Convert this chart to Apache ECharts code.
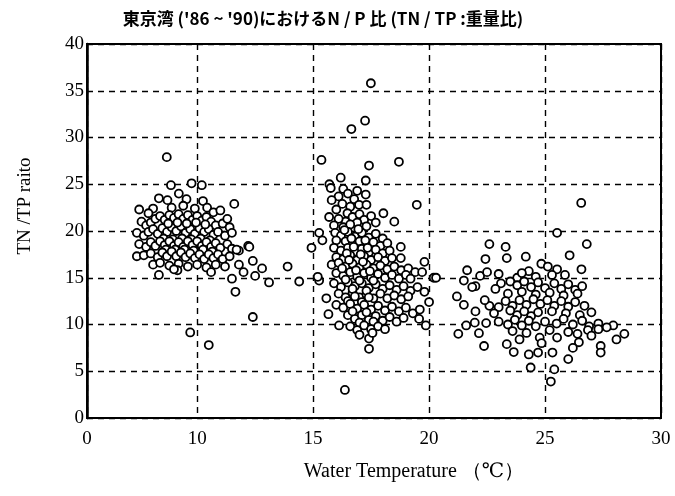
<!DOCTYPE html>
<html>
<head>
<meta charset="utf-8">
<script src="https://cdn.jsdelivr.net/npm/echarts@6/dist/echarts.min.js"></script>
<style>
  html, body { margin: 0; padding: 0; background: #fff; }
  #chart { width: 675px; height: 496px; }
</style>
</head>
<body>
<div id="chart"></div>
<script>
// TN/TP ratio against water temperature, Tokyo Bay 1986-1990
const titleText = "東京湾 ('86 ~ '90)におけるN / P 比 (TN / TP :重量比)";
const xName = 'Water Temperature （℃）';
const yName = 'TN /TP raito';
const xTickLabels = [0, 10, 15, 20, 25, 30];
const yTickLabels = [0, 5, 10, 15, 20, 25, 30, 35, 40];

// [water temperature ℃, TN/TP]
const coolSeason = [
  [8.69,27.9],[8.87,24.9],[9.76,25.1],[10.2,24.9],
  [8.35,23.5],[8.72,23.3],[9.21,24.0],[9.54,23.4],[10.25,23.2],[10.43,22.5],[11.6,22.9],
  [8.1,22.4],[8.9,22.5],[9.4,22.7],[9.9,22.4],[10.7,22.0],[11.0,22.2],
  [7.5,22.3],[7.9,21.9],[7.6,21.0],[7.8,20.6],[8.0,20.9],[8.2,21.3],[8.4,21.6],[8.6,21.2],
  [8.8,21.7],[9.0,21.4],[9.2,21.8],[9.4,21.3],[9.6,21.7],[9.8,21.2],[10.0,21.6],[10.2,21.1],
  [10.4,21.5],[10.6,21.0],[10.8,20.6],[11.1,20.8],[11.3,21.3],[11.4,20.4],
  [7.4,19.8],[7.7,19.5],[7.9,19.9],[8.1,20.2],[8.3,19.7],[8.5,20.3],[8.7,19.9],[8.9,20.4],
  [9.1,20.0],[9.3,20.5],[9.5,19.8],[9.7,20.2],[9.9,19.7],[10.1,20.3],[10.3,19.9],[10.5,20.2],
  [10.7,19.6],[10.9,19.9],[11.2,19.5],[11.5,19.8],
  [8.75,20.8],[9.15,20.9],[9.55,20.8],[9.95,20.9],[10.35,20.7],
  [8.55,19.2],[8.95,19.1],[9.35,19.2],[9.75,19.1],[10.15,19.2],[10.55,19.0],
  [7.5,18.6],[7.8,18.3],[8.0,18.8],[8.2,18.4],[8.4,18.9],[8.6,18.5],[8.8,18.9],[9.0,18.4],
  [9.2,18.8],[9.4,18.3],[9.6,18.9],[9.8,18.5],[10.0,18.9],[10.2,18.4],[10.4,18.8],[10.6,18.3],
  [10.8,18.7],[11.0,18.2],[11.3,18.6],[11.5,18.1],
  [8.65,18.0],[9.05,18.0],[9.45,18.0],[9.85,17.9],[10.25,18.0],[10.65,17.8],
  [7.4,17.3],[7.7,17.4],[8.0,17.6],[8.3,17.2],[8.5,17.7],[8.7,17.3],[8.9,17.8],[9.1,17.3],
  [9.3,17.7],[9.5,17.2],[9.7,17.6],[9.9,17.1],[10.1,17.5],[10.3,17.0],[10.5,17.5],[10.7,17.1],
  [10.9,17.5],[11.1,17.0],[11.4,17.3],
  [8.1,16.4],[8.4,16.6],[8.8,16.3],[9.2,16.5],[9.6,16.2],[10.0,16.4],[10.4,16.1],[10.8,16.4],[11.2,16.2],
  [8.35,15.3],[9.15,15.8],[10.6,15.6],[9.0,15.9],
  [12.2,18.4],[11.8,17.9],[12.4,16.8],[11.8,16.4],[12.8,16.0],[12.0,15.6],[11.5,14.9],[13.1,14.5],
  [11.65,13.5],[12.4,10.8],[13.9,16.2],[14.4,14.6],[12.25,18.3],[11.7,18.0],[12.5,15.2],
  [9.7,9.15],[10.5,7.8]
];

const midSeason = [
  [17.49,35.8],[17.24,31.8],[16.65,30.9],[15.36,27.6],[17.41,27.0],[18.7,27.4],[19.47,22.8],
  [15.7,25.0],[15.76,24.6],[16.19,25.7],[16.1,23.7],[15.8,23.3],[16.3,24.5],[16.5,24.0],[16.9,24.3],
  [17.27,23.9],[17.27,25.4],[16.77,23.4],[16.98,22.8],[17.3,22.8],[16.26,22.9],[16.0,22.3],[16.6,22.6],
  [15.69,21.5],[16.48,21.9],[16.4,21.0],[16.1,21.3],[16.7,21.5],[17.0,21.8],[17.2,21.2],[17.5,21.6],
  [16.9,20.9],[15.9,20.6],[16.3,20.4],[16.6,20.7],[17.3,20.5],[17.7,20.9],[18.03,21.9],[18.5,21.0],
  [15.26,19.8],[15.4,19.0],[15.95,19.8],[16.2,19.5],[16.5,19.9],[16.8,19.4],[17.1,19.8],[17.4,19.3],
  [17.7,19.7],[18.0,19.2],[16.0,19.0],[16.4,18.9],[16.7,18.6],[17.0,18.9],[17.3,18.5],[17.6,18.8],
  [17.9,18.4],[18.2,18.7],
  [16.35,20.1],[16.65,19.2],[16.95,20.2],[17.25,19.0],
  [14.93,18.2],[15.9,18.2],[16.2,17.9],[16.5,18.2],[16.8,17.8],[17.1,18.1],[17.4,17.7],[17.7,18.0],
  [18.0,17.6],[18.3,17.9],[18.78,18.3],[18.78,17.1],[16.0,17.2],[16.3,17.0],[16.6,17.4],[16.9,16.9],
  [17.2,17.3],[17.5,16.9],[17.8,17.2],[18.1,16.8],[18.4,17.1],
  [16.45,17.6],[16.75,18.3],[17.05,17.5],[17.35,18.2],
  [15.8,16.4],[16.1,16.6],[16.4,16.2],[16.7,16.5],[17.0,16.1],[17.3,16.4],[17.6,16.0],[17.9,16.3],
  [18.2,15.9],[18.5,16.2],[18.8,15.8],[19.1,16.0],[19.8,16.7],[19.4,15.6],[16.0,15.5],[16.3,15.2],
  [16.6,15.6],[16.9,15.1],[17.2,15.5],[17.5,15.0],[17.8,15.4],[18.1,15.0],[18.4,15.3],[18.7,14.9],
  [19.0,15.3],[19.7,15.6],[19.2,14.9],[20.2,15.0],[15.26,14.7],[15.2,15.1],
  [16.25,16.0],[16.55,16.9],[16.85,15.8],[17.15,16.7],[17.45,15.7],
  [15.9,14.4],[16.2,14.0],[16.5,14.5],[16.8,14.1],[17.1,14.4],[17.4,13.9],[17.7,14.3],[18.0,13.8],
  [18.3,14.2],[18.6,13.7],[18.9,14.1],[19.2,13.6],[19.5,14.0],[19.8,13.5],[16.1,13.3],[16.4,12.9],
  [16.7,13.4],[17.0,12.9],[17.3,13.2],[17.6,12.8],[17.9,13.3],[18.2,12.8],[18.5,13.1],[18.8,12.7],
  [19.1,13.0],[15.57,12.8],[20.0,12.4],
  [16.4,14.8],[16.7,13.8],[17.0,14.7],[17.3,13.6],[17.6,14.7],[16.5,12.5],[16.8,13.0],[17.1,12.4],[17.4,12.9],
  [16.0,12.1],[16.3,11.8],[16.6,12.2],[16.9,11.7],[17.2,12.1],[17.5,11.6],[17.8,12.0],[18.1,11.5],
  [18.4,11.9],[18.7,11.4],[19.0,11.8],[19.3,11.2],[19.6,11.6],[15.66,11.1],[16.5,11.0],[16.8,10.6],
  [17.1,11.0],[17.4,10.5],[17.7,10.9],[18.0,10.4],[18.3,10.8],[18.6,10.3],[18.9,10.7],[19.57,10.6],
  [16.7,11.4],[17.0,10.2],[17.3,11.3],[17.6,10.3],
  [16.12,9.9],[19.86,9.9],[16.6,9.8],[16.9,9.4],[17.2,9.9],[17.5,9.5],[17.8,9.8],[18.1,9.5],
  [17.41,8.5],[17.41,7.4],[17.56,9.1],[17.0,8.9],[16.37,3.0]
];

const warmSeason = [
  [26.56,23.0],[25.52,19.8],[26.8,18.6],[22.6,18.6],[23.3,18.3],[23.35,17.1],[22.43,17.0],
  [24.17,17.25],[26.06,17.4],[26.57,15.9],
  [21.64,15.8],[22.2,15.2],[22.5,15.6],[23.0,15.4],[24.84,16.5],[25.12,16.2],[25.52,15.9],[25.86,15.3],
  [20.3,15.0],[24.3,15.7],[24.6,15.1],[23.8,15.0],[24.0,15.5],[25.3,15.3],
  [21.5,14.7],[22.0,14.1],[23.1,14.4],[22.86,13.8],[23.5,14.6],[23.8,14.2],[24.1,14.6],[24.4,14.0],
  [24.7,14.5],[25.0,13.9],[25.4,14.4],[25.7,13.8],[26.0,14.3],[26.3,13.7],[26.6,14.1],[21.86,14.0],
  [23.4,13.3],[24.0,13.5],[24.6,13.2],[25.2,13.4],[25.8,13.1],[26.4,13.3],
  [21.2,13.0],[21.5,12.1],[22.6,12.0],[23.0,11.85],[22.4,12.6],[23.3,12.5],[23.6,12.0],[23.9,12.6],
  [24.2,12.1],[24.5,12.7],[24.8,12.2],[25.1,12.6],[25.4,12.0],[25.7,12.5],[26.0,11.9],[26.3,12.4],
  [26.7,12.0],[22.0,11.4],[22.8,11.2],[23.5,11.5],[23.8,11.0],[24.1,11.4],[24.4,10.9],[24.7,11.3],
  [25.3,11.4],[25.9,11.2],[26.5,11.0],[27.0,11.3],
  [21.26,9.0],[21.6,9.9],[21.97,10.2],[22.46,10.15],[22.15,9.07],[23.0,10.3],[23.4,10.0],[23.7,10.5],
  [24.0,9.9],[24.3,10.4],[24.6,9.8],[25.0,10.3],[25.5,10.1],[25.8,10.6],[26.2,10.0],[26.6,10.4],
  [26.9,9.8],[27.3,10.1],[27.94,9.9],[27.66,9.7],[27.3,9.5],[26.85,9.4],[27.0,8.8],[23.6,9.3],
  [24.2,9.1],[25.2,9.4],[26.0,9.2],[26.4,9.0],[28.42,9.0],[28.08,8.4],
  [22.37,7.7],[23.35,7.9],[23.65,7.05],[24.38,5.4],[24.3,6.8],[24.7,7.0],[24.77,8.6],[24.85,8.0],
  [25.32,7.0],[25.4,5.2],[25.25,3.9],[26.0,6.3],[25.52,8.6],[26.46,8.1],[27.4,7.7],[27.4,7.0],
  [23.9,8.4],[26.2,7.5]
];

const serif = '"Liberation Serif", "DejaVu Serif", serif';
const points = coolSeason.concat(midSeason, warmSeason);

const chart = echarts.init(document.getElementById('chart'), null, { renderer: 'canvas' });
chart.setOption({
  backgroundColor: '#fff',
  animation: false,
  title: {
    text: titleText,
    left: 318,
    top: 5,
    textAlign: 'center',
    textStyle: {
      fontFamily: '"Noto Sans CJK JP", sans-serif',
      fontSize: 17,
      fontWeight: 'bold',
      color: '#000'
    }
  },
  grid: {
    left: 87, right: 14, top: 44, bottom: 78,
    outerBoundsMode: 'none',
    containLabel: false,
    show: true, borderColor: '#000', borderWidth: 2, backgroundColor: '#fff'
  },
  xAxis: {
    type: 'value',
    min: 0, max: 30, interval: 5,
    // the axis jumps from 0 straight to the mid-5s
    breaks: [{ start: 0, end: 5.3, gap: 0.05 }],
    breakArea: { show: false },
    breakLabelLayout: { moveOverlap: false },
    axisLine: { show: true, onZero: false, lineStyle: { color: '#000', width: 2 } },
    axisTick: { show: false },
    splitLine: { show: true, lineStyle: { color: '#000', width: 1.4, type: [6, 5] } },
    axisLabel: {
      color: '#000', fontFamily: serif, fontSize: 19, margin: 12,
      formatter: v => (xTickLabels.indexOf(v) >= 0 ? String(v) : '')
    },
    name: xName,
    nameLocation: 'middle',
    nameGap: 44,
    nameTextStyle: { color: '#000', fontFamily: serif, fontSize: 20, padding: [0, 0, 0, 80] }
  },
  yAxis: {
    type: 'value',
    min: 0, max: 40, interval: 5,
    axisLine: { show: true, lineStyle: { color: '#000', width: 2.5 } },
    axisTick: { show: false },
    splitLine: { show: true, lineStyle: { color: '#000', width: 1.4, type: [6, 5] } },
    axisLabel: {
      color: '#000', fontFamily: serif, fontSize: 19, margin: 3,
      formatter: v => (yTickLabels.indexOf(v) >= 0 ? String(v) : '')
    },
    name: yName,
    nameLocation: 'middle',
    nameGap: 52,
    nameTextStyle: { color: '#000', fontFamily: serif, fontSize: 19, padding: [0, 0, 0, 50] }
  },
  series: [{
    type: 'scatter',
    data: points,
    symbol: 'circle',
    symbolSize: 8,
    itemStyle: { color: '#fff', borderColor: '#000', borderWidth: 1.8, opacity: 1 },
    emphasis: { disabled: true }
  }]
});
</script>
</body>
</html>
